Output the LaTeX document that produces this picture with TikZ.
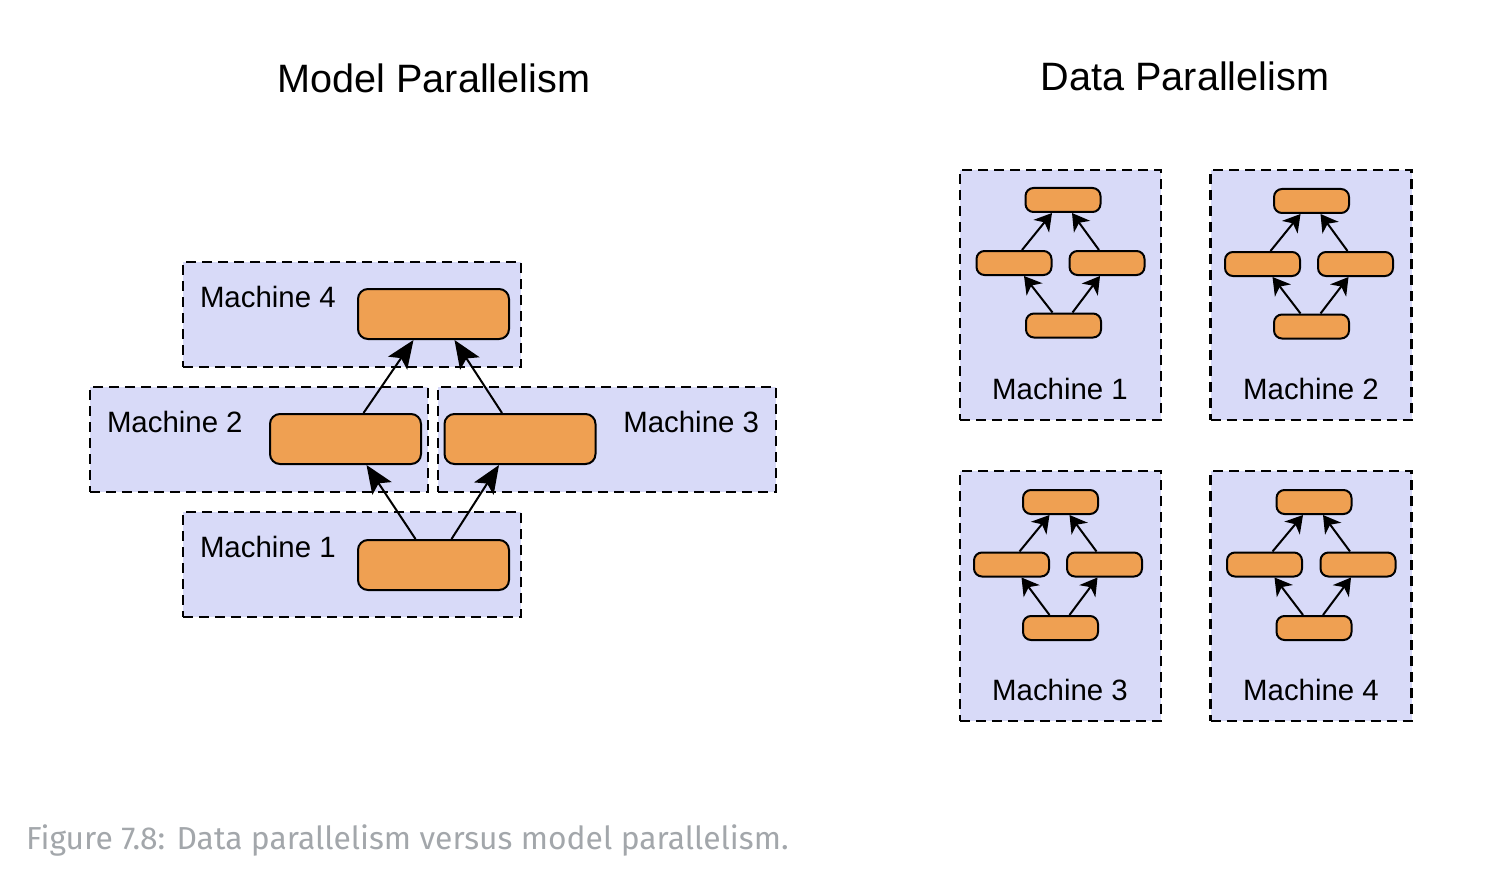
\documentclass[tikz,border=0pt]{standalone}
\usepackage{fontspec}
\setmainfont{Liberation Sans}
\newfontfamily\capfont{Fira Sans}
\usetikzlibrary{arrows.meta,positioning,calc}
\definecolor{boxfill}{HTML}{D8DAF8}
\definecolor{taskfill}{HTML}{EFA052}
\definecolor{capgray}{HTML}{A3A7AB}
\begin{document}
\begin{tikzpicture}[x=0.5pt, y=-0.5pt, line width=1pt]
\tikzstyle{machine}=[draw=black, fill=boxfill, line width=1.2pt, dash pattern=on 5pt off 3pt, inner sep=0pt]
\tikzstyle{wide}=[machine, minimum width=169pt, minimum height=52.5pt]
\tikzstyle{tall}=[machine, minimum width=100.5pt, minimum height=125pt]
\tikzstyle{bigtask}=[draw=black, fill=taskfill, line width=1pt, rounded corners=5pt, minimum width=75.5pt, minimum height=25pt, inner sep=0pt]
\tikzstyle{task}=[draw=black, fill=taskfill, line width=1pt, rounded corners=4pt, minimum width=37.5pt, minimum height=12pt, inner sep=0pt]
\tikzstyle{big}=[-{Stealth[length=14pt,width=11.5pt,inset=3pt]}]
\tikzstyle{small}=[-{Stealth[length=8.5pt,width=10pt,inset=2.5pt]}]
\tikzstyle{mlabel}=[font=\fontsize{14.7}{17}\selectfont, inner sep=0pt]
\tikzstyle{heading}=[font=\fontsize{19.8}{23}\selectfont, inner sep=0pt]
\useasboundingbox (0,0) rectangle (1492,882);
% model parallelism
\node[heading] (mtitle) at (434,78) {Model Parallelism};
\node[wide] (m4) at (352,314.5) {};
\node[wide] (m2) at (259,439.5) {};
\node[wide] (m3) at (607,439.5) {};
\node[wide] (m1) at (352,564.5) {};
\node[mlabel, anchor=west] (l4) at (199,297) {Machine 4};
\node[mlabel, anchor=west] (l2) at (106,422) {Machine 2};
\node[mlabel, anchor=east] (l3) at (760,422) {Machine 3};
\node[mlabel, anchor=west] (l1) at (199,547) {Machine 1};
\node[bigtask] (t4) at (433.5,314) {};
\node[bigtask] (t2) at (345.5,439) {};
\node[bigtask] (t3) at (520,439) {};
\node[bigtask] (t1) at (433.5,565) {};
\draw[big] ($(t2.north)+(18,0)$) -- ($(t4.south)+(-20,0)$);
\draw[big] ($(t3.north)+(-18,0)$) -- ($(t4.south)+(21,0)$);
\draw[big] ($(t1.north)+(-18,0)$) -- ($(t2.south)+(21,0)$);
\draw[big] ($(t1.north)+(18,0)$) -- ($(t3.south)+(-21,0)$);
% data parallelism
\node[heading] (dtitle) at (1185,76) {Data Parallelism};
\node[tall] (d1) at (1060.5,295) {};
\node[tall] (d2) at (1311,295) {};
\node[tall] (d3) at (1060.5,596) {};
\node[tall] (d4) at (1311,596) {};
\node[mlabel] (n1) at (1060,389) {Machine 1};
\node[mlabel] (n2) at (1311,389) {Machine 2};
\node[mlabel] (n3) at (1060,690) {Machine 3};
\node[mlabel] (n4) at (1311,690) {Machine 4};
% machine 1
\node[task] (a1) at (1063,200) {};
\node[task] (b1) at (1014,263) {};
\node[task] (c1) at (1107,263) {};
\node[task] (e1) at (1063.5,325.5) {};
% machine 2
\node[task] (a2) at (1311.5,201) {};
\node[task] (b2) at (1262.5,264) {};
\node[task] (c2) at (1355.5,264) {};
\node[task] (e2) at (1311.5,326.5) {};
% machine 3
\node[task] (a3) at (1060.5,502) {};
\node[task] (b3) at (1011.5,564.5) {};
\node[task] (c3) at (1104.5,564.5) {};
\node[task] (e3) at (1060.5,628) {};
% machine 4
\node[task] (a4) at (1314,502) {};
\node[task] (b4) at (1264.5,564.5) {};
\node[task] (c4) at (1358,564.5) {};
\node[task] (e4) at (1314,628) {};
\draw[small] ($(b1.north)+(8,0)$) -- ($(a1.south)+(-11,0)$);
\draw[small] ($(c1.north)+(-8,0)$) -- ($(a1.south)+(9,0)$);
\draw[small] ($(e1.north)+(-11,0)$) -- ($(b1.south)+(10,0)$);
\draw[small] ($(e1.north)+(9,0)$) -- ($(c1.south)+(-7,0)$);
\draw[small] ($(b2.north)+(8,0)$) -- ($(a2.south)+(-11,0)$);
\draw[small] ($(c2.north)+(-8,0)$) -- ($(a2.south)+(9,0)$);
\draw[small] ($(e2.north)+(-11,0)$) -- ($(b2.south)+(10,0)$);
\draw[small] ($(e2.north)+(9,0)$) -- ($(c2.south)+(-7,0)$);
\draw[small] ($(b3.north)+(8,0)$) -- ($(a3.south)+(-11,0)$);
\draw[small] ($(c3.north)+(-8,0)$) -- ($(a3.south)+(9,0)$);
\draw[small] ($(e3.north)+(-11,0)$) -- ($(b3.south)+(10,0)$);
\draw[small] ($(e3.north)+(9,0)$) -- ($(c3.south)+(-7,0)$);
\draw[small] ($(b4.north)+(8,0)$) -- ($(a4.south)+(-11,0)$);
\draw[small] ($(c4.north)+(-8,0)$) -- ($(a4.south)+(9,0)$);
\draw[small] ($(e4.north)+(-11,0)$) -- ($(b4.south)+(10,0)$);
\draw[small] ($(e4.north)+(9,0)$) -- ($(c4.south)+(-7,0)$);
% caption
\node[anchor=west, inner sep=0pt, text=capgray, font=\capfont\fontsize{15.9}{18}\selectfont] (cap) at (25,840) {Figure 7.8: Data parallelism versus model parallelism.};
\end{tikzpicture}
\end{document}
